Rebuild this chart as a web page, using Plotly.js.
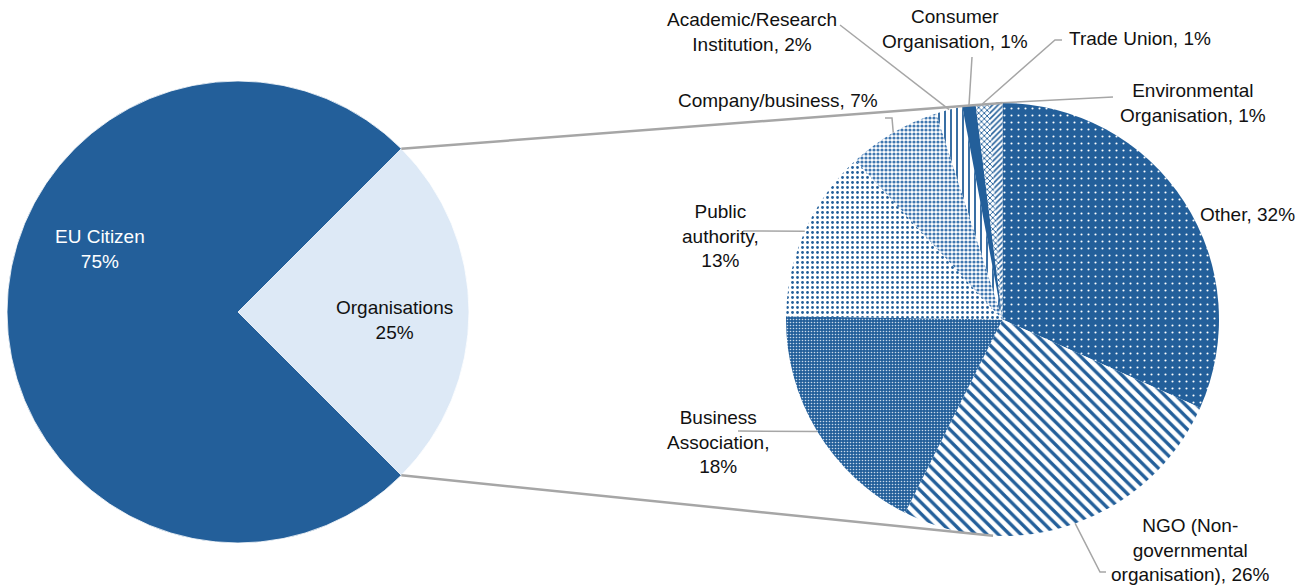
<!DOCTYPE html>
<html><head><meta charset="utf-8">
<script src="https://cdn.plot.ly/plotly-3.0.1.min.js"></script>
<style>html,body{margin:0;padding:0;background:#fff}</style>
</head><body><div id="chart" style="width:1316px;height:587px"></div>
<script>
// ---------- DATA ----------
const mainLabels = ['Organisations', 'EU Citizen'];
const mainValues = [25, 75];

const orgLabels = ['Other', 'NGO (Non-governmental organisation)', 'Business Association',
  'Public authority', 'Company/business', 'Academic/Research Institution',
  'Consumer Organisation', 'Trade Union', 'Environmental Organisation'];
const orgValues = [32, 26, 18, 13, 7, 2, 1, 1, 1];

// label text as printed (with line breaks)
const mainDisplay = ['Organisations', 'EU Citizen'];
const orgDisplay = ['Other', 'NGO (Non-<br>governmental<br>organisation)', 'Business<br>Association',
  'Public<br>authority', 'Company/business', 'Academic/Research<br>Institution',
  'Consumer<br>Organisation', 'Trade Union', 'Environmental<br>Organisation'];

// ---------- STYLE / LAYOUT ----------
const W = 1316, H = 587;
const DARK = '#235f9a', LIGHT = '#dde9f6', GREY = '#a6a6a6';
const FONT = 'Liberation Sans, Arial, sans-serif';
const FS = 19;

const L = {cx: 238, cy: 312, r: 231, rot: 45};
const R = {cx: 1002.5, cy: 319.5, r: 216.5, rot: 0};

function domainOf(p) {
  return {x: [(p.cx - p.r) / W, (p.cx + p.r) / W], y: [1 - (p.cy + p.r) / H, 1 - (p.cy - p.r) / H]};
}
function pt(p, deg, rr) {
  const a = deg * Math.PI / 180, r = (rr === undefined ? p.r : rr);
  return [p.cx + r * Math.sin(a), p.cy - r * Math.cos(a)];
}
const px2x = x => x / W, px2y = y => 1 - y / H;

const orgPatterns = {
  shape:    ['.',   '\\',    '.',   '.',    '.',    '|',    '',   'x',    '/'],
  bgcolor:  [DARK,  '#fff',  DARK,  '#fff', '#fff', '#fff', DARK, '#fff', '#fff'],
  fgcolor:  ['#fff', DARK,   '#c9d9ea', DARK, '#3f77b0', DARK, DARK, DARK, DARK],
  size:     [7,     8,       3,     5,      4,      6,      8,    4,      4],
  solidity: [0.07,  0.42,    0.22,  0.25,   0.5,    0.3,    0.3,  0.4,    0.4]
};
const orgColors = orgValues.map((v, i) => i === 6 ? DARK : '#7fa3cc');

// label placement (pixel centres), separator between name and value, leader line points
const orgLabelPos = [[1247, 215], [1190, 550], [718, 442], [720, 236], [778, 100],
  [752, 32], [955, 29], [1140, 38], [1193, 103]];
const orgSep = [', ', ', ', ',<br>', ',<br>', ', ', ', ', ', ', ', ', ', '];
const orgLeader = [null, [[1106, 572], [1100, 572]], [[738, 431]], [[743, 231]],
  [[885, 118], [892, 118]], [[840, 25]], [[972, 57]], [[1062, 40], [1055, 40]], [[1113, 97]]];
const mainLabelPos = [[394, 320], [100, 249]];
const mainTextColor = ['#111', '#fff'];

// ---------- TRACES ----------
const traces = [
  {
    type: 'pie', labels: mainLabels, values: mainValues, sort: false,
    direction: 'clockwise', rotation: L.rot, domain: domainOf(L),
    textinfo: 'none', hoverinfo: 'label+percent',
    marker: {colors: [LIGHT, DARK], line: {color: '#ffffff', width: 0.8}},
    showlegend: false
  },
  {
    type: 'pie', labels: orgLabels, values: orgValues, sort: false,
    direction: 'clockwise', rotation: R.rot, domain: domainOf(R),
    textinfo: 'none', hoverinfo: 'label+percent',
    marker: {colors: orgColors, line: {width: 0}, pattern: Object.assign({fillmode: 'replace'}, orgPatterns)},
    showlegend: false
  }
];

// ---------- SHAPES (connector + leader lines) ----------
const shapes = [];
function addPath(points, width) {
  const d = points.map((p, i) => (i ? 'L' : 'M') + px2x(p[0]).toFixed(5) + ',' + px2y(p[1]).toFixed(5)).join(' ');
  shapes.push({type: 'path', xref: 'paper', yref: 'paper', path: d, line: {color: GREY, width: width}, layer: 'above'});
}
const mainTotal = mainValues.reduce((a, b) => a + b, 0);
const orgStart = L.rot, orgEnd = L.rot + 360 * mainValues[0] / mainTotal;
addPath([pt(L, orgStart), pt(R, 0)], 2.5);
addPath([pt(L, orgEnd), pt(R, 182.5)], 2.5);

const orgTotal = orgValues.reduce((a, b) => a + b, 0);
let cum = 0;
const annotations = [];
orgValues.forEach((v, i) => {
  const mid = R.rot + 360 * (cum + v / 2) / orgTotal;
  cum += v;
  if (orgLeader[i]) addPath(orgLeader[i].concat([pt(R, mid)]), 1.5);
  annotations.push({
    xref: 'paper', yref: 'paper', x: px2x(orgLabelPos[i][0]), y: px2y(orgLabelPos[i][1]),
    xanchor: 'center', yanchor: 'middle', align: 'center', showarrow: false,
    text: orgDisplay[i] + orgSep[i] + v + '%',
    font: {family: FONT, size: FS, color: '#111'}
  });
});
mainValues.forEach((v, i) => {
  annotations.push({
    xref: 'paper', yref: 'paper', x: px2x(mainLabelPos[i][0]), y: px2y(mainLabelPos[i][1]),
    xanchor: 'center', yanchor: 'middle', align: 'center', showarrow: false,
    text: mainDisplay[i] + '<br>' + Math.round(100 * v / mainTotal) + '%',
    font: {family: FONT, size: FS, color: mainTextColor[i]}
  });
});

const layout = {
  width: W, height: H, margin: {l: 0, r: 0, t: 0, b: 0},
  paper_bgcolor: '#ffffff', plot_bgcolor: '#ffffff',
  font: {family: FONT, size: FS, color: '#111'},
  showlegend: false, shapes: shapes, annotations: annotations
};
Plotly.newPlot('chart', traces, layout, {displayModeBar: false, staticPlot: true});
</script>
</body></html>
